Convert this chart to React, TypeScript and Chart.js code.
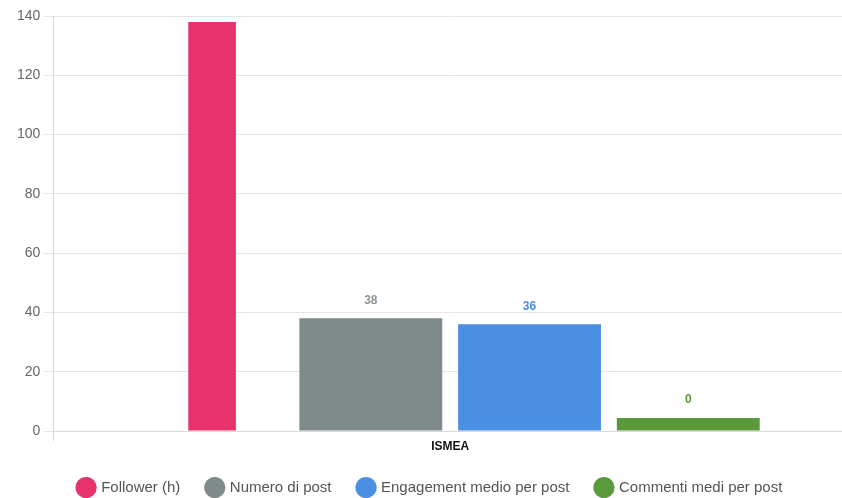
import React, { useEffect, useRef } from "react";
import { Chart, registerables } from "chart.js";

Chart.register(...registerables);

const categories = ["ISMEA"];
const seriesNames = ["Follower (h)", "Numero di post", "Engagement medio per post", "Commenti medi per post"];
const followerValues = [138];
const postValues = [38];
const engagementValues = [36];
const commentValues = [0];
const yTicks = [0, 20, 40, 60, 80, 100, 120, 140];

const colors = ["#e8326c", "#7f8b8a", "#4a8fe1", "#5a9a3a"];
const labelColors = [null, "#8f9695", "#4a8fe1", "#5a9a3a"];
const barPercents = [0.3, 0.9, 0.9, 0.9];

const FONT = "'Liberation Sans', Arial, Helvetica, sans-serif";
const W = 855;
const H = 505;

const valueLabels = {
  id: "valueLabels",
  afterDatasetsDraw(chart: any) {
    const ctx = chart.ctx;
    ctx.save();
    ctx.font = `bold 12px ${FONT}`;
    ctx.textAlign = "center";
    ctx.textBaseline = "middle";
    chart.data.datasets.forEach((ds: any, i: number) => {
      const c = labelColors[i];
      if (!c) return;
      const meta = chart.getDatasetMeta(i);
      meta.data.forEach((bar: any, j: number) => {
        ctx.fillStyle = c;
        ctx.fillText(String(ds.data[j]), bar.x, bar.y - 18);
      });
    });
    ctx.restore();
  },
};

export default function App() {
  const ref = useRef<HTMLCanvasElement>(null);
  useEffect(() => {
    if (!ref.current) return;
    const allSeries = [followerValues, postValues, engagementValues, commentValues];
    const chart = new Chart(ref.current, {
      type: "bar",
      data: {
        labels: categories,
        datasets: allSeries.map((d, i) => ({
          label: seriesNames[i],
          data: d,
          backgroundColor: colors[i],
          borderWidth: 0,
          barPercentage: barPercents[i],
          categoryPercentage: 0.8,
          minBarLength: 13,
        })),
      },
      options: {
        responsive: false,
        animation: false,
        devicePixelRatio: 1,
        layout: { padding: { left: 14, right: 8, top: 16, bottom: 0 } },
        plugins: {
          tooltip: { enabled: false },
          legend: {
            position: "bottom",
            labels: {
              usePointStyle: true,
              pointStyle: "circle",
              color: "#555",
              font: { family: FONT, size: 15 },
              padding: 27,
            },
          },
        },
        scales: {
          x: {
            grid: { drawOnChartArea: false, color: "#d9d9d9", tickLength: 10 },
            border: { color: "#d9d9d9" },
            ticks: { color: "#111", font: { family: FONT, size: 12, weight: "bold", lineHeight: 1 }, padding: 0 },
          },
          y: {
            min: 0,
            max: 140,
            afterBuildTicks: (axis: any) => {
              axis.ticks = yTicks.map((v) => ({ value: v }));
            },
            grid: { color: "#e6e6e6", tickLength: 10 },
            border: { color: "#d9d9d9" },
            ticks: { color: "#666", font: { family: FONT, size: 14 }, padding: 3 },
          },
        },
      },
      plugins: [valueLabels],
    });
    return () => chart.destroy();
  }, []);
  return (
    <div style={{ position: "fixed", left: 0, top: 0, width: W, height: H, background: "#fff" }}>
      <canvas ref={ref} width={W} height={H} />
    </div>
  );
}
